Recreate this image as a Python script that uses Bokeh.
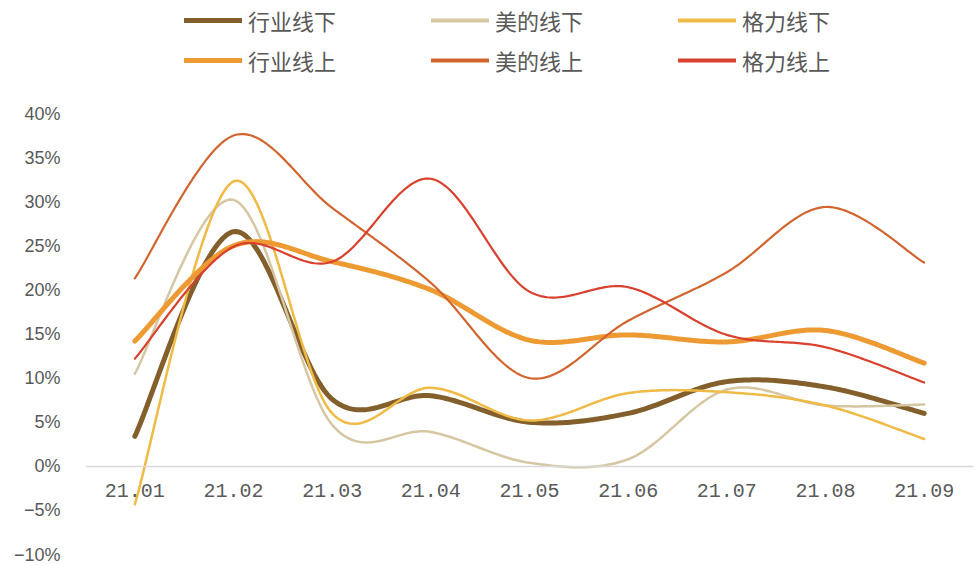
import numpy as np
from bokeh.plotting import figure
from bokeh.layouts import column
from bokeh.models import Range1d, FixedTicker, Legend, LegendItem
from bokeh.embed import file_html
from bokeh.resources import INLINE

categories = ["21.01", "21.02", "21.03", "21.04", "21.05", "21.06", "21.07", "21.08", "21.09"]
industry_offline = [3.4, 26.6, 7.6, 8.0, 5.0, 6.0, 9.6, 9.0, 6.0]
midea_offline = [10.5, 30.2, 4.7, 3.9, 0.4, 0.8, 8.7, 6.9, 7.0]
gree_offline = [-4.3, 32.3, 6.0, 8.9, 5.2, 8.3, 8.4, 6.9, 3.1]
industry_online = [14.2, 25.0, 23.2, 20.0, 14.3, 14.9, 14.1, 15.4, 11.7]
midea_online = [21.3, 37.5, 29.3, 20.8, 10.0, 16.5, 22.0, 29.4, 23.1]
gree_online = [12.2, 24.9, 23.2, 32.6, 19.8, 20.3, 14.9, 13.5, 9.5]

series_names = ["行业线下", "美的线下", "格力线下", "行业线上", "美的线上", "格力线上"]
y_ticks = [-10, -5, 0, 5, 10, 15, 20, 25, 30, 35, 40]
y_tick_labels = ["−10%", "−5%", "0%", "5%", "10%", "15%", "20%", "25%", "30%", "35%", "40%"]

colors = ["#835F2C", "#D6C6A2", "#EFBA45", "#EE9A33", "#D2652F", "#D9402E"]
widths = [5, 2.5, 2.5, 5, 2.2, 2.2]
legend_widths = [5, 4, 4, 5, 4, 4]
all_series = [industry_offline, midea_offline, gree_offline,
              industry_online, midea_online, gree_online]


def smooth(xs, ys, n=40):
    pts = np.column_stack([xs, ys]).astype(float)
    m = len(pts)
    out_x, out_y = [], []
    t = np.linspace(0, 1, n)
    for i in range(m - 1):
        p0 = pts[i - 1] if i > 0 else pts[i]
        p1 = pts[i]
        p2 = pts[i + 1]
        p3 = pts[i + 2] if i + 2 < m else pts[i + 1]
        c1 = p1 + (p2 - p0) / 6.0
        c2 = p2 - (p3 - p1) / 6.0
        b = ((1 - t) ** 3)[:, None] * p1 + (3 * (1 - t) ** 2 * t)[:, None] * c1 \
            + (3 * (1 - t) * t ** 2)[:, None] * c2 + (t ** 3)[:, None] * p2
        if i > 0:
            b = b[1:]
        out_x.extend(b[:, 0])
        out_y.extend(b[:, 1])
    return out_x, out_y


x_pos = [i + 0.5 for i in range(len(categories))]

# ---- legend strip (same series, drawn out of its view; only the legend shows) ----
LEG_H = 90
pl = figure(width=976, height=LEG_H, x_range=Range1d(0, len(categories)), y_range=Range1d(100, 101),
            output_backend="svg", toolbar_location=None, x_axis_type=None, y_axis_type=None,
            min_border_left=0, min_border_right=0, min_border_top=0, min_border_bottom=0)
pl.outline_line_color = None
pl.xgrid.visible = False
pl.ygrid.visible = False
leg_renderers = []
for vals, c, w in zip(all_series, colors, legend_widths):
    sx, sy = smooth(x_pos, vals)
    leg_renderers.append(pl.line(sx, sy, line_color=c, line_width=w, line_cap="round"))

legend = Legend(items=[LegendItem(label=n, renderers=[r]) for n, r in zip(series_names, leg_renderers)],
                ncols=3, orientation="horizontal", location=(99, 14.5))
legend.glyph_width = 58
legend.glyph_height = 22
legend.label_standoff = 6
legend.label_height = 22
legend.label_width = 175
legend.spacing = 8
legend.padding = 0
legend.margin = 0
legend.border_line_color = None
legend.background_fill_alpha = 0
legend.label_text_font = "Noto Sans CJK SC"
legend.label_text_font_size = "22px"
legend.label_text_color = "#595959"
pl.add_layout(legend, "center")

# ---- main chart ----
p = figure(width=976, height=565 - LEG_H, x_range=Range1d(0, len(categories)), y_range=Range1d(-10, 40),
           output_backend="svg", toolbar_location=None,
           min_border_left=85, min_border_right=3, min_border_top=113 - LEG_H, min_border_bottom=11)
p.outline_line_color = None
p.xgrid.visible = False
p.ygrid.visible = False

for vals, c, w in zip(all_series, colors, widths):
    sx, sy = smooth(x_pos, vals)
    p.line(sx, sy, line_color=c, line_width=w, line_cap="round", line_join="round")

xa = p.xaxis[0]
xa.fixed_location = 0
xa.ticker = FixedTicker(ticks=x_pos)
xa.major_label_overrides = {x: lab for x, lab in zip(x_pos, categories)}
xa.axis_line_color = "#D9D9D9"
xa.axis_line_width = 1.5
xa.major_tick_line_color = None
xa.minor_tick_line_color = None
xa.major_label_standoff = 12
xa.major_label_text_font = "Liberation Mono"
xa.major_label_text_font_size = "20px"
xa.major_label_text_color = "#595959"

ya = p.yaxis[0]
ya.ticker = FixedTicker(ticks=y_ticks)
ya.major_label_overrides = {v: lab for v, lab in zip(y_ticks, y_tick_labels)}
ya.axis_line_color = None
ya.major_tick_line_color = None
ya.minor_tick_line_color = None
ya.major_label_standoff = 19
ya.major_label_text_font = "Liberation Sans"
ya.major_label_text_font_size = "18px"
ya.major_label_text_color = "#595959"

layout = column(pl, p, spacing=0)
open("out.html", "w").write(file_html(layout, INLINE))
